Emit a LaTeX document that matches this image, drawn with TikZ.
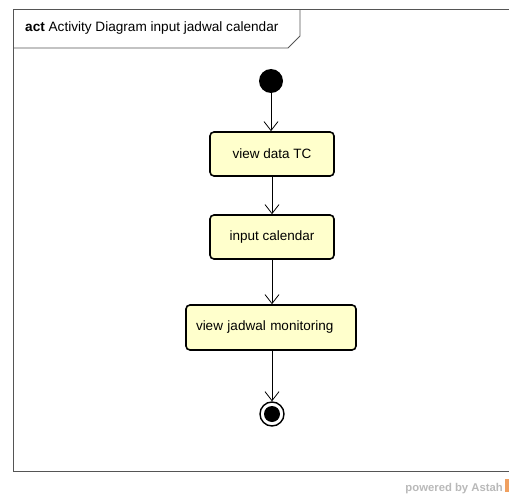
\documentclass[tikz,border=0pt]{standalone}
\usepackage{fontspec}
\setmainfont{Liberation Sans}
\usetikzlibrary{arrows.meta}
\definecolor{actfill}{HTML}{FFFFCC}
\definecolor{framegray}{HTML}{555555}
\definecolor{astah}{HTML}{F0A060}
\tikzset{
  act/.style={draw=black, line width=1.6pt, fill=actfill, rounded corners=4pt, font=\fontsize{13.5}{16}\selectfont},
  flow/.style={draw=black, line width=0.8pt, -{Straight Barb[length=9pt,width=14pt,line width=0.8pt]}},
}
\begin{document}
\begin{tikzpicture}[x=1pt,y=-1pt]
\useasboundingbox (0,0) rectangle (509,495);
% frame
\draw[framegray, line width=0.8pt] (509,9.5) -- (13.5,9.5) -- (13.5,471) -- (509,471);
\draw[framegray, line width=0.8pt] (13.5,48) -- (288,48) -- (300,36) -- (300,9.5);
\node[anchor=base west, inner sep=0pt, font=\fontsize{13.6}{16}\selectfont] (title) at (25,32) {\textbf{act} Activity Diagram input jadwal calendar};
% nodes
\node[circle, fill=black, minimum size=24pt, inner sep=0pt] (start) at (271,81) {};
\node[act, minimum width=124pt, minimum height=44pt] (a1) at (272,154) {view data TC};
\node[act, minimum width=124pt, minimum height=44pt] (a2) at (272,237) {input calendar};
\node[act, minimum width=170pt, minimum height=45pt, text width=150pt, align=left] (a3) at (271,327.5) {view jadwal monitoring};
\node[circle, draw=black, line width=1.4pt, minimum size=24pt, inner sep=0pt] (end) at (272,414) {};
\node[circle, fill=black, minimum size=16pt, inner sep=0pt] (endin) at (end.center) {};
% flows
\draw[flow] (start) -- (start |- a1.north);
\draw[flow] (a1) -- (a1 |- a2.north);
\draw[flow] (a2) -- (a2 |- a3.north);
\draw[flow] (a3.south -| end) -- (end.north);
% watermark
\node[anchor=base east, inner sep=0pt, text=gray!55, font=\fontsize{11.3}{13}\selectfont\bfseries] (wm) at (503,491) {powered by Astah};
\fill[astah] (504.5,479) rectangle (509,492);
\end{tikzpicture}
\end{document}
